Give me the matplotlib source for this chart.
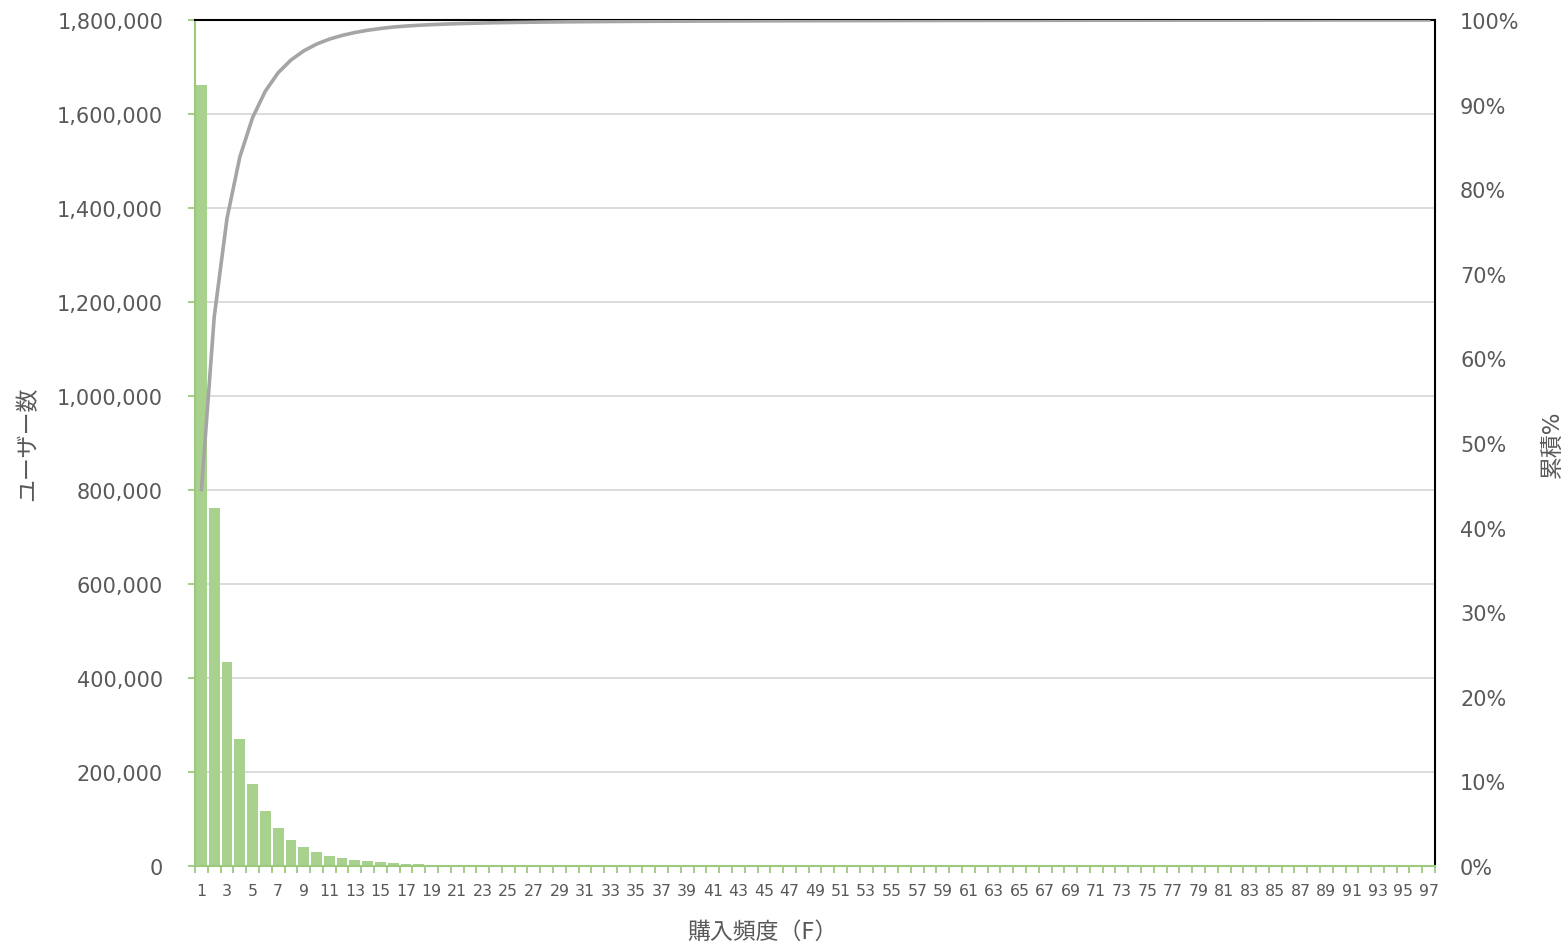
import numpy as np
import matplotlib.pyplot as plt
from matplotlib.ticker import FuncFormatter, MultipleLocator, FixedLocator

plt.rcParams['font.family'] = ['DejaVu Sans', 'Noto Sans CJK JP']

# purchase frequency F = 1..97 and number of users per frequency
freq = np.arange(1, 98)
users_head = [1662000, 762000, 434000, 270000, 174500, 117000, 81000, 56000,
              40400, 29800, 22000, 16400, 12800, 10000, 7800, 6400, 4300, 3500,
              2800, 2300, 1900, 1600, 1350, 1150, 1000, 850, 750, 650, 570, 500]
users_tail = [440, 400, 370, 340, 310, 290, 270, 250, 235, 220, 205, 195, 185,
              175, 165, 160, 150, 145, 140, 135, 130, 125, 120, 115, 110, 106,
              102, 98, 95, 92, 89, 86, 83, 80, 78, 76, 74, 72, 70, 68, 66, 64,
              62, 60, 58, 56, 55, 54, 52, 51, 50, 48, 47, 46, 45, 44, 43, 42,
              41, 40, 39, 38, 37, 36, 35, 34, 33]
users = np.array(users_head + users_tail, dtype=float)
cum_pct = np.cumsum(users) / users.sum()

bar_color = '#a9d18e'
axis_green = '#9dc97f'
line_color = '#a5a5a5'
text_color = '#595959'

fig = plt.figure(figsize=(15.68, 9.45), dpi=100)
ax = fig.add_axes([0.1244, 0.0825, 0.7908, 0.8953])

ax.bar(freq, users, width=0.84, color=bar_color, zorder=2)
ax.set_xlim(0.5, 97.5)
ax.set_ylim(0, 1800000)
ax.yaxis.set_major_locator(MultipleLocator(200000))
ax.yaxis.set_major_formatter(FuncFormatter(lambda v, p: f'{int(v):,}'))
ax.grid(axis='y', color='#d9d9d9', linewidth=1.3, zorder=0)
ax.set_axisbelow(True)

# odd labels under bars, tick marks on category boundaries
ax.xaxis.set_major_locator(FixedLocator(freq[::2]))
ax.xaxis.set_minor_locator(FixedLocator(np.arange(0.5, 98, 1)))
ax.tick_params(axis='x', which='major', length=0, pad=12, labelsize=11.3,
               labelcolor=text_color)
ax.tick_params(axis='x', which='minor', length=5, width=1.3, color=axis_green)
ax.tick_params(axis='y', length=5, width=1.3, color=axis_green, pad=18,
               labelsize=15, labelcolor=text_color)

ax.spines['left'].set_color(axis_green)
ax.spines['left'].set_linewidth(1.5)
ax.spines['bottom'].set_color(axis_green)
ax.spines['bottom'].set_linewidth(1.5)
ax.spines['top'].set_color('black')
ax.spines['top'].set_linewidth(1.5)
ax.spines['right'].set_color('black')
ax.spines['right'].set_linewidth(1.5)

ax.set_xlabel('購入頻度（F）', fontsize=16.5, color=text_color)
ax.xaxis.set_label_coords(0.458, -0.064)
ax.set_ylabel('ユーザー数', fontsize=16.5, color=text_color)
ax.yaxis.set_label_coords(-0.126, 0.5)

ax2 = ax.twinx()
ax2.plot(freq, cum_pct, color=line_color, linewidth=2.6, zorder=3)
ax2.set_ylim(0, 1)
ax2.yaxis.set_major_locator(MultipleLocator(0.1))
ax2.yaxis.set_major_formatter(FuncFormatter(lambda v, p: f'{v * 100:.0f}%'))
ax2.tick_params(axis='y', length=0, pad=18, labelsize=15, labelcolor=text_color)
ax2.set_ylabel('累積%', fontsize=16.5, color=text_color)
ax2.yaxis.set_label_coords(1.085, 0.5)
for s in ax2.spines.values():
    s.set_visible(False)

fig.savefig('out.png', dpi=100)
